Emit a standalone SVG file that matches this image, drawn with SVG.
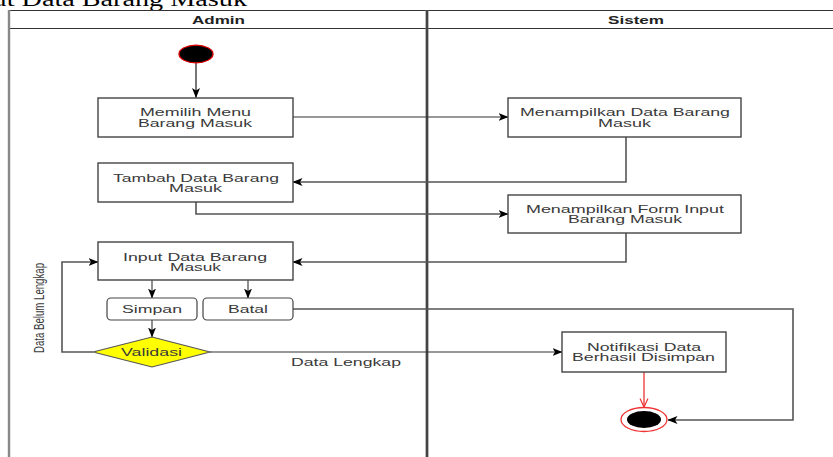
<svg xmlns="http://www.w3.org/2000/svg" width="833" height="457" viewBox="0 0 833 457">
<defs>
<marker id="arr" markerUnits="userSpaceOnUse" markerWidth="10" markerHeight="10" viewBox="0 0 10 10" refX="9.5" refY="5" orient="auto">
<path d="M0,1 L10,5 L0,9 L2.5,5 z" fill="#000"/>
</marker>
<marker id="arrRed" markerUnits="userSpaceOnUse" markerWidth="10" markerHeight="10" viewBox="0 0 10 10" refX="9.5" refY="5" orient="auto">
<path d="M1,1 L9.5,5 L1,9" fill="none" stroke="#e33" stroke-width="1.2"/>
</marker>
</defs>
<style>
text{font-family:"Liberation Sans",Arial,sans-serif;font-size:11.5px;fill:#3a3a3a;text-anchor:middle}
.box{fill:#fff;stroke:#444;stroke-width:1.4}
.btn{fill:#fff;stroke:#444;stroke-width:1.2}
.hdr{font-weight:bold;fill:#222}
.c{fill:none;stroke:#333;stroke-width:1.1}
.cg{fill:none;stroke:#555;stroke-width:1.6}
</style>
<rect width="833" height="457" fill="#fff"/>
<text x="247" y="5.5" textLength="292" lengthAdjust="spacingAndGlyphs" style="font-family:'Liberation Serif','Times New Roman',serif;font-size:20px;text-anchor:end;fill:#000">Input Data Barang Masuk</text>
<g id="lanes">
<line x1="9.5" y1="10.5" x2="833" y2="10.5" stroke="#333" stroke-width="1.2"/>
<line x1="9.5" y1="28.5" x2="833" y2="28.5" stroke="#333" stroke-width="1.2"/>
<line x1="9" y1="10" x2="9" y2="457" stroke="#888" stroke-width="2.4"/>
<line x1="427" y1="10" x2="427" y2="457" stroke="#777" stroke-width="3"/>
<line x1="427" y1="10" x2="427" y2="457" stroke="#222" stroke-width="1.2"/>
<text class="hdr" x="218.5" y="24" textLength="53" lengthAdjust="spacingAndGlyphs">Admin</text>
<text class="hdr" x="636" y="24" textLength="56" lengthAdjust="spacingAndGlyphs">Sistem</text>
</g>
<g id="connectors">
<line x1="196" y1="63" x2="196" y2="97.5" stroke="#777" stroke-width="2" marker-end="url(#arr)"/>
<path class="c" d="M293,117 H508" marker-end="url(#arr)"/>
<path class="cg" d="M626,137 V182 H293" marker-end="url(#arr)"/>
<path class="cg" d="M196,202 V214 H508" marker-end="url(#arr)"/>
<path class="cg" d="M626,233 V262 H293" marker-end="url(#arr)"/>
<path class="c" d="M152,280 V298" stroke-width="1.5" marker-end="url(#arr)"/>
<path class="c" d="M248,280 V298" stroke-width="1.5" marker-end="url(#arr)"/>
<path class="c" d="M152,320 V337" stroke-width="1.5" marker-end="url(#arr)"/>
<path class="cg" d="M93,352 H62 V262 H98" marker-end="url(#arr)"/>
<path class="c" d="M210,352 H562" marker-end="url(#arr)"/>
<path class="cg" d="M293,309 H793 V420 H668" marker-end="url(#arr)"/>
<path d="M644,372 V407" fill="none" stroke="#e33" stroke-width="1.3" marker-end="url(#arrRed)"/>
<text x="0" y="0" transform="translate(44,308) rotate(-90)" textLength="90" lengthAdjust="spacingAndGlyphs" style="font-size:15px">Data Belum Lengkap</text>
<text x="346" y="365.5" textLength="110" lengthAdjust="spacingAndGlyphs">Data Lengkap</text>
</g>
<g id="start">
<ellipse cx="196" cy="54" rx="17" ry="8.8" fill="#000" stroke="#d00" stroke-width="1.3"/>
</g>
<g id="memilih">
<rect class="box" x="98" y="98" width="195" height="39"/>
<text x="195.5" y="116" textLength="111" lengthAdjust="spacingAndGlyphs">Memilih Menu</text>
<text x="195" y="126.5" textLength="114" lengthAdjust="spacingAndGlyphs">Barang Masuk</text>
</g>
<g id="menampilkan-data">
<rect class="box" x="508" y="98" width="233" height="39"/>
<text x="625" y="115.5" textLength="210" lengthAdjust="spacingAndGlyphs">Menampilkan Data Barang</text>
<text x="624.5" y="126.5" textLength="53" lengthAdjust="spacingAndGlyphs">Masuk</text>
</g>
<g id="tambah">
<rect class="box" x="98" y="163" width="195" height="39"/>
<text x="196" y="181.5" textLength="166" lengthAdjust="spacingAndGlyphs">Tambah Data Barang</text>
<text x="195.5" y="192" textLength="53" lengthAdjust="spacingAndGlyphs">Masuk</text>
</g>
<g id="form-input">
<rect class="box" x="508" y="195" width="233" height="38"/>
<text x="625" y="212.5" textLength="198" lengthAdjust="spacingAndGlyphs">Menampilkan Form Input</text>
<text x="625" y="223" textLength="114" lengthAdjust="spacingAndGlyphs">Barang Masuk</text>
</g>
<g id="input">
<rect class="box" x="98" y="242" width="195" height="38"/>
<text x="195" y="260.5" textLength="144" lengthAdjust="spacingAndGlyphs">Input Data Barang</text>
<text x="195.5" y="271" textLength="51" lengthAdjust="spacingAndGlyphs">Masuk</text>
</g>
<g id="simpan">
<rect class="btn" x="107" y="298" width="90" height="22" rx="4"/>
<text x="152" y="313" textLength="60" lengthAdjust="spacingAndGlyphs">Simpan</text>
</g>
<g id="batal">
<rect class="btn" x="203" y="298" width="90" height="22" rx="4"/>
<text x="248" y="313" textLength="40" lengthAdjust="spacingAndGlyphs">Batal</text>
</g>
<g id="validasi">
<polygon points="152,337 210,352 152,367 93,352" fill="#ffff00" stroke="#555" stroke-width="1.1"/>
<text x="151.5" y="355.7" textLength="61" lengthAdjust="spacingAndGlyphs">Validasi</text>
</g>
<g id="notifikasi">
<rect class="box" x="562" y="332" width="164" height="40"/>
<text x="644" y="350.7" textLength="114" lengthAdjust="spacingAndGlyphs">Notifikasi Data</text>
<text x="643.5" y="361.3" textLength="143" lengthAdjust="spacingAndGlyphs">Berhasil Disimpan</text>
</g>
<g id="end">
<ellipse cx="644" cy="419.5" rx="23" ry="12" fill="#fff" stroke="#e33" stroke-width="1.3"/>
<ellipse cx="644" cy="419.5" rx="17" ry="8.5" fill="#000"/>
</g>
</svg>
